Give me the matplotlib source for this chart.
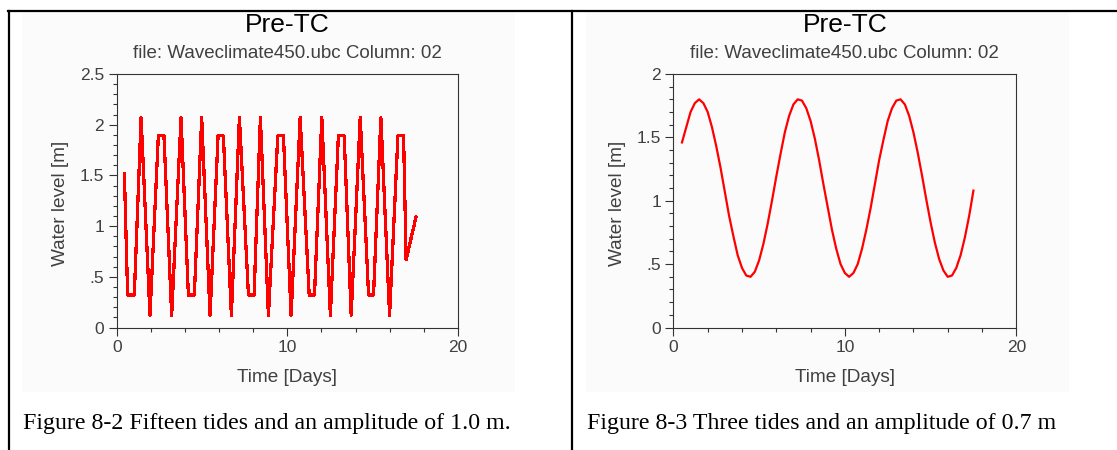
#!/usr/bin/env python3

import matplotlib
matplotlib.use('Agg')

import matplotlib.pyplot as plt
from matplotlib.lines import Line2D
from matplotlib.patches import Rectangle
from matplotlib.ticker import MultipleLocator

# Figure 8-2: fifteen tides, amplitude 1.0 m (vertices)
time_a = [0.45, 0.64, 1.03, 1.43, 1.95, 2.44, 2.77, 3.22, 3.77, 4.20, 4.55,
          4.98, 5.47, 5.94, 6.25, 6.72, 7.19, 7.72, 8.05, 8.42, 8.89, 9.44,
          9.77, 10.22, 10.75, 11.28, 11.59, 12.02, 12.52, 12.99, 13.33, 13.74,
          14.27, 14.76, 15.05, 15.48, 15.99, 16.48, 16.81, 16.96, 17.54]
level_a = [1.52, 0.32, 0.32, 2.07, 0.12, 1.89, 1.89, 0.12, 2.07, 0.32, 0.32,
           2.07, 0.12, 1.89, 1.89, 0.12, 2.07, 0.32, 0.32, 2.07, 0.12, 1.89,
           1.89, 0.12, 2.07, 0.32, 0.32, 2.07, 0.12, 1.89, 1.89, 0.12,
           2.07, 0.32, 0.32, 2.07, 0.12, 1.89, 1.89, 0.67, 1.09]

# Figure 8-3: three tides, amplitude 0.7 m
time_b = [0.50, 0.75, 1.00, 1.25, 1.50, 1.75, 2.00, 2.25, 2.50, 2.75, 3.00,
          3.25, 3.50, 3.75, 4.00, 4.25, 4.50, 4.75, 5.00, 5.25, 5.50, 5.75,
          6.00, 6.25, 6.50, 6.75, 7.00, 7.25, 7.50, 7.75, 8.00, 8.25, 8.50,
          8.75, 9.00, 9.25, 9.50, 9.75, 10.00, 10.25, 10.50, 10.75, 11.00,
          11.25, 11.50, 11.75, 12.00, 12.25, 12.50, 12.75, 13.00, 13.25,
          13.50, 13.75, 14.00, 14.25, 14.50, 14.75, 15.00, 15.25, 15.50,
          15.75, 16.00, 16.25, 16.50, 16.75, 17.00, 17.25, 17.50]
level_b = [1.46, 1.58, 1.70, 1.77, 1.80, 1.77, 1.70, 1.58, 1.43, 1.26, 1.07,
           0.88, 0.72, 0.57, 0.47, 0.41, 0.40, 0.44, 0.53, 0.66, 0.82, 1.00,
           1.19, 1.37, 1.54, 1.67, 1.76, 1.80, 1.79, 1.73, 1.63, 1.49, 1.32,
           1.13, 0.95, 0.77, 0.62, 0.50, 0.43, 0.40, 0.43, 0.50, 0.62,
           0.77, 0.94, 1.13, 1.32, 1.48, 1.63, 1.73, 1.79, 1.80,
           1.76, 1.67, 1.54, 1.38, 1.20, 1.01, 0.83, 0.67, 0.54,
           0.45, 0.40, 0.41, 0.47, 0.57, 0.71, 0.88, 1.08]

yticks_a = [0, 0.5, 1, 1.5, 2, 2.5]
ylabels_a = ['0', '.5', '1', '1.5', '2', '2.5']
yticks_b = [0, 0.5, 1, 1.5, 2]
ylabels_b = ['0', '.5', '1', '1.5', '2']
xticks = [0, 10, 20]

title = 'Pre-TC'
subtitle = 'file: Waveclimate450.ubc Column: 02'
captions = ['Figure 8-2 Fifteen tides and an amplitude of 1.0 m.',
            'Figure 8-3 Three tides and an amplitude of 0.7 m']

W, H = 1117, 450
GRAY = '#404040'
SANS = 'Liberation Sans'
SERIF = 'Liberation Serif'


def fx(px):
    return px / W


def fy(py):
    return 1 - py / H


def panel(fig, x0, x1, t, y, aa, yticks, ylabels, ytop, bg_left, bg_right, cap):
    fig.patches.append(Rectangle((fx(bg_left), fy(392)), fx(bg_right - bg_left),
                                 (392 - 12) / H, transform=fig.transFigure,
                                 facecolor='#fbfbfb', edgecolor='none', zorder=-5))
    ax = fig.add_axes([fx(x0), fy(327.5), fx(x1 - x0), (327.5 - 74) / H])
    ax.set_facecolor('#fbfbfb')
    ax.plot(t, y, color='#ff0000', lw=1.6, antialiased=aa)
    ax.set_xlim(0, 20)
    ax.set_ylim(0, ytop)
    ax.set_xticks(xticks)
    ax.set_xticklabels([str(v) for v in xticks])
    ax.xaxis.set_minor_locator(MultipleLocator(2))
    ax.set_yticks(yticks)
    ax.set_yticklabels(ylabels)
    ax.yaxis.set_minor_locator(MultipleLocator(0.1))
    ax.tick_params(which='major', length=6, width=0.8, color='#333333',
                   labelsize=12.5, labelcolor=GRAY, pad=3)
    ax.tick_params(which='minor', length=3, width=0.8, color='#333333')
    for lab in ax.get_xticklabels() + ax.get_yticklabels():
        lab.set_family(SANS)
    for s in ax.spines.values():
        s.set_color('#333333')
        s.set_linewidth(0.8)

    cx = (x0 + x1) / 2
    fig.text(fx(cx), fy(25), title, ha='center', va='center',
             fontsize=19, family=SANS, color='black')
    fig.text(fx(cx), fy(53), subtitle, ha='center', va='center',
             fontsize=13.5, family=SANS, color=GRAY)
    fig.text(fx(x0 - 56), fy(203), 'Water level [m]', ha='center', va='center',
             rotation=90, fontsize=13.7, family=SANS, color=GRAY)
    fig.text(fx(cx), fy(378), 'Time [Days]', ha='center', va='center',
             fontsize=13.7, family=SANS, color=GRAY)
    fig.text(fx(bg_left + 1), fy(424), cap, ha='left', va='center',
             fontsize=17.2, family=SERIF, color='black')
    return ax


def main():
    fig = plt.figure(figsize=(W / 100, H / 100), dpi=100)
    fig.patch.set_facecolor('white')

    panel(fig, 116.7, 458, time_a, level_a, False, yticks_a, ylabels_a, 2.5,
          22, 515, captions[0])
    panel(fig, 673.4, 1016.3, time_b, level_b, True, yticks_b, ylabels_b, 2.0,
          586, 1069, captions[1])

    # table borders
    for xs, ys in [((8, W), (11, 11)), ((8.5, 8.5), (11, H)), ((572, 572), (11, H))]:
        fig.add_artist(Line2D([fx(v) for v in xs], [fy(v) for v in ys],
                              transform=fig.transFigure, color='black', lw=1.6))

    plt.savefig('out.png', dpi=100)


if __name__ == "__main__":
    main()
